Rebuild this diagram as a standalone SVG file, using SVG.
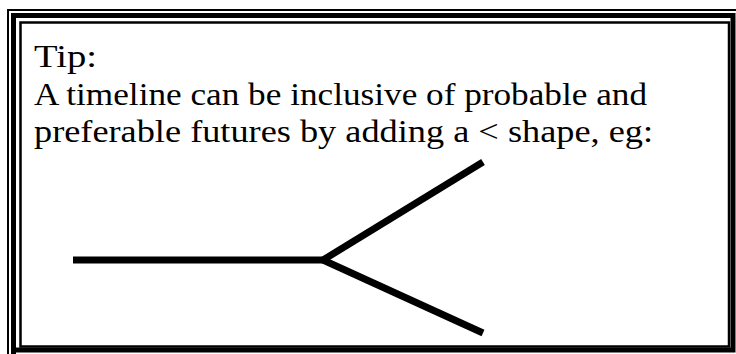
<svg xmlns="http://www.w3.org/2000/svg" width="736" height="354" viewBox="0 0 736 354">
<style>
.b{fill:none;stroke:#000}
.t{font-family:"Liberation Serif","Times New Roman",serif;font-size:30.5px;fill:#000}
.ln{fill:none;stroke:#000;stroke-width:7;stroke-linecap:butt}
</style>
<rect width="736" height="354" fill="#fff"/>
<g id="border">
<path class="b" stroke-width="2" d="M8 360 V10 H740"/>
<path class="b" stroke-width="5" d="M13.5 360 V15.5 H733 V350 H13.5"/>
<rect class="b" stroke-width="2.5" x="20.5" y="22.5" width="708.5" height="324"/>
</g>
<g id="tip-text">
<text class="t" x="34" y="67" textLength="63" lengthAdjust="spacingAndGlyphs">Tip:</text>
<text class="t" x="34" y="105" textLength="613" lengthAdjust="spacingAndGlyphs">A timeline can be inclusive of probable and</text>
<text class="t" x="34" y="142" textLength="619" lengthAdjust="spacingAndGlyphs">preferable futures by adding a &lt; shape, eg:</text>
</g>
<g id="connectors">
<path class="ln" d="M73 260 H323"/>
<path class="ln" d="M323 260 L483 162"/>
<path class="ln" d="M323 260 L483 333"/>
</g>
</svg>
